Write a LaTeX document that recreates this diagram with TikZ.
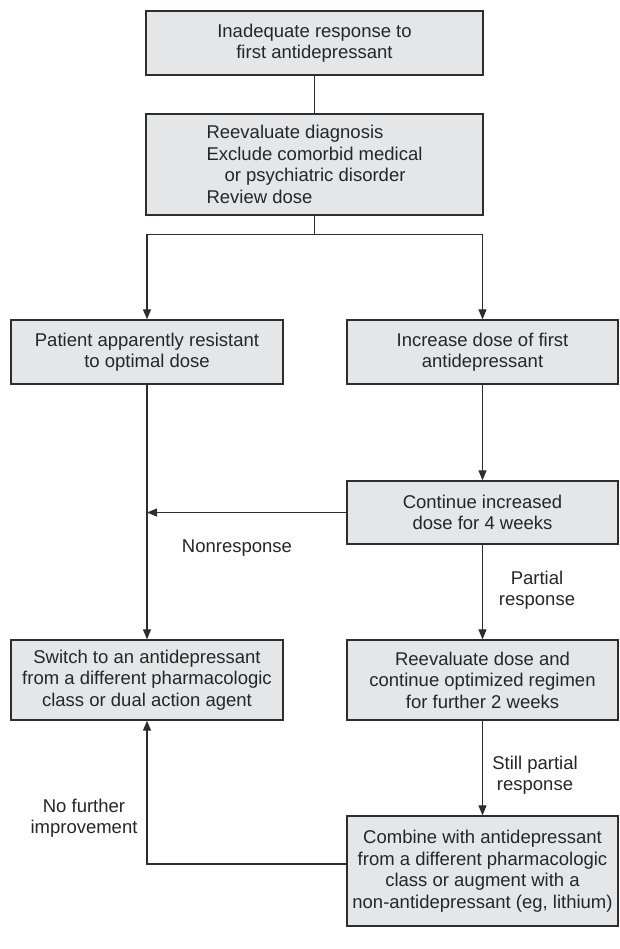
\documentclass[tikz,border=0pt]{standalone}
\usepackage{fontspec}
\setmainfont{Liberation Sans}
\usetikzlibrary{arrows.meta}
\definecolor{boxfill}{HTML}{E5E6E7}
\definecolor{lin}{HTML}{2E2E2E}
\newcommand\fs{\fontsize{18.5}{21.5}\selectfont}
\begin{document}
\begin{tikzpicture}[x=1pt,y=-1pt,
  box/.style={draw=lin, fill=boxfill, line width=1.3pt, inner sep=0pt, align=center, font=\fs, text=black!85},
  conn/.style={draw=lin, line width=1.1pt},
  arr/.style={conn, -{Triangle[length=10pt,width=8pt]}},
  lbl/.style={align=center, font=\fs, inner sep=0pt, text=black!85}]
\useasboundingbox (0,0) rectangle (619,949);

\node[box, minimum width=337pt, minimum height=64pt] (b1) at (314.5,43)
  {Inadequate response to\\first antidepressant};
\node[box, minimum width=337pt, minimum height=101pt, align=left] (b2) at (314.5,164.5)
  {Reevaluate diagnosis\\Exclude comorbid medical\\\hspace*{18pt}or psychiatric disorder\\Review dose};
\node[box, minimum width=272pt, minimum height=64pt] (left) at (147,352)
  {Patient apparently resistant\\to optimal dose};
\node[box, minimum width=271pt, minimum height=64pt] (right) at (482.5,352)
  {Increase dose of first\\antidepressant};
\node[box, minimum width=271pt, minimum height=63pt] (cont) at (482.5,512.5)
  {Continue increased\\dose for 4 weeks};
\node[box, minimum width=272pt, minimum height=80pt] (switch) at (147,680)
  {Switch to an antidepressant\\from a different pharmacologic\\class or dual action agent};
\node[box, minimum width=271pt, minimum height=80pt] (reev) at (482.5,680)
  {Reevaluate dose and\\continue optimized regimen\\for further 2 weeks};
\node[box, minimum width=271pt, minimum height=110pt] (comb) at (482.5,871)
  {Combine with antidepressant\\from a different pharmacologic\\class or augment with a\\non-antidepressant (eg, lithium)};

\node[lbl] (nonresp) at (237,548) {Nonresponse};
\node[lbl] (partial) at (537,590) {Partial\\response};
\node[lbl] (still) at (535,775) {Still partial\\response};
\node[lbl] (nofurther) at (84,818) {No further\\improvement};

\draw[conn] (b1.south) -- (b2.north);
\draw[conn] (b2.south) -- ++(0,18.5) coordinate (j);
\draw[arr] (j) -| (left.north);
\draw[arr] (j) -| (right.north);
\draw[arr] (left.south) -- (switch.north);
\draw[arr] (right.south) -- (cont.north);
\draw[arr] (cont.west) -- (cont.west -| left.south);
\draw[arr] (cont.south) -- (reev.north);
\draw[arr] (reev.south) -- (comb.north);
\draw[arr] ([yshift=7pt]comb.west) -| (switch.south);
\end{tikzpicture}
\end{document}
